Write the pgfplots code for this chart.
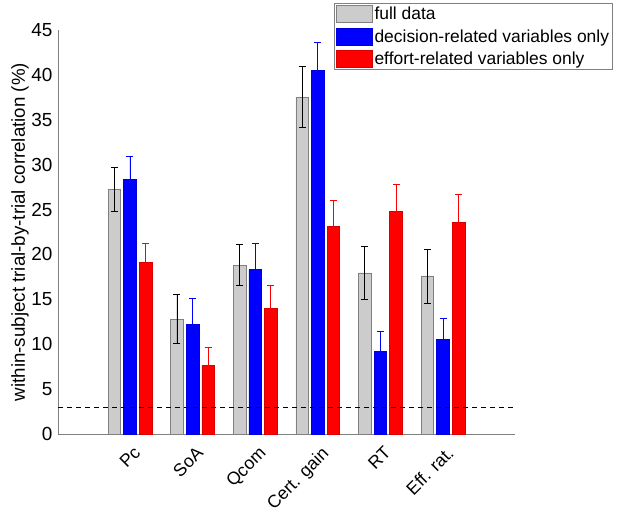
\documentclass[border=0pt]{standalone}
\usepackage{pgfplots}
\pgfplotsset{compat=1.18}
\usepackage{fontspec}
\setmainfont{Liberation Sans}
\definecolor{fullgray}{RGB}{204,204,204}
\definecolor{axgray}{RGB}{128,128,128}
\begin{document}
\begin{tikzpicture}
\useasboundingbox (0,0) rectangle (617bp,514bp);
\begin{axis}[
  at={(58bp,80bp)}, anchor=south west,
  scale only axis, width=457bp, height=404bp,
  xmin=-0.15, xmax=7.15, ymin=0, ymax=45,
  axis x line=bottom, axis y line=left,
  axis line style={-, axgray, line width=0.8bp},
  major tick length=0pt,
  ytick={0,5,...,45},
  xtick={1,2,3,4,5,6},
  xticklabels={Pc,SoA,Qcom,Cert. gain,RT,Eff. rat.},
  yticklabel style={font=\fontsize{19}{22}\selectfont, xshift=-2bp},
  /pgf/number format/assume math mode=true,
  xticklabel style={font=\fontsize{17.8}{21}\selectfont, rotate=45, anchor=north east, inner sep=1bp, xshift=-5bp, yshift=-9bp},
  ylabel={within-subject trial-by-trial correlation (\%)},
  ylabel style={font=\fontsize{18.8}{22}\selectfont, at={(rel axis cs:-0.083,0.5)}, anchor=center},
  legend style={at={(rel axis cs:0.604,1.067)}, anchor=north west,
    font=\fontsize{17.5}{20}\selectfont, draw=axgray, line width=0.8bp,
    inner sep=1.5bp, row sep=4.5bp, cells={anchor=west}},
  legend image code/.code={\draw[#1, line width=0.6bp] (0bp,-8.5bp) rectangle (36bp,8.5bp);},
  error bars/y dir=both, error bars/y explicit,
  clip=false,
]
\addplot[ybar, bar width=0.2, bar shift=0, fill=fullgray, draw=gray, line width=0.6bp,
  error bars/error bar style={black, line width=0.8bp},
  error bars/error mark options={black, rotate=90, mark size=3.5bp, line width=0.8bp}]
  coordinates {
  (0.75,27.25) +- (0,2.45)
  (1.75,12.8) +- (0,2.75)
  (2.75,18.8) +- (0,2.3)
  (3.75,37.5) +- (0,3.4)
  (4.75,17.95) +- (0,2.95)
  (5.75,17.6) +- (0,3.0)
  };
\addlegendentry{full data}
\addplot[ybar, bar width=0.2, bar shift=0, fill=blue, draw=blue!85!black, line width=0.6bp,
  error bars/error bar style={blue, line width=0.8bp},
  error bars/error mark options={blue, rotate=90, mark size=3.5bp, line width=0.8bp}]
  coordinates {
  (1,28.4) +- (0,2.5)
  (2,12.2) +- (0,2.85)
  (3,18.3) +- (0,2.9)
  (4,40.5) +- (0,3.1)
  (5,9.2) +- (0,2.2)
  (6,10.5) +- (0,2.4)
  };
\addlegendentry{decision-related variables only}
\addplot[ybar, bar width=0.2, bar shift=0, fill=red, draw=red!85!black, line width=0.6bp,
  error bars/error bar style={red, line width=0.8bp},
  error bars/error mark options={red, rotate=90, mark size=3.5bp, line width=0.8bp}]
  coordinates {
  (1.25,19.15) +- (0,2.05)
  (2.25,7.6) +- (0,2.1)
  (3.25,14.0) +- (0,2.6)
  (4.25,23.1) +- (0,2.9)
  (5.25,24.8) +- (0,3.0)
  (6.25,23.6) +- (0,3.1)
  };
\addlegendentry{effort-related variables only}
\addplot[black, dashed, dash pattern=on 5bp off 4bp, line width=0.8bp, forget plot]
  coordinates {(-0.15,2.95) (7.15,2.95)};
\end{axis}
\end{tikzpicture}
\end{document}
